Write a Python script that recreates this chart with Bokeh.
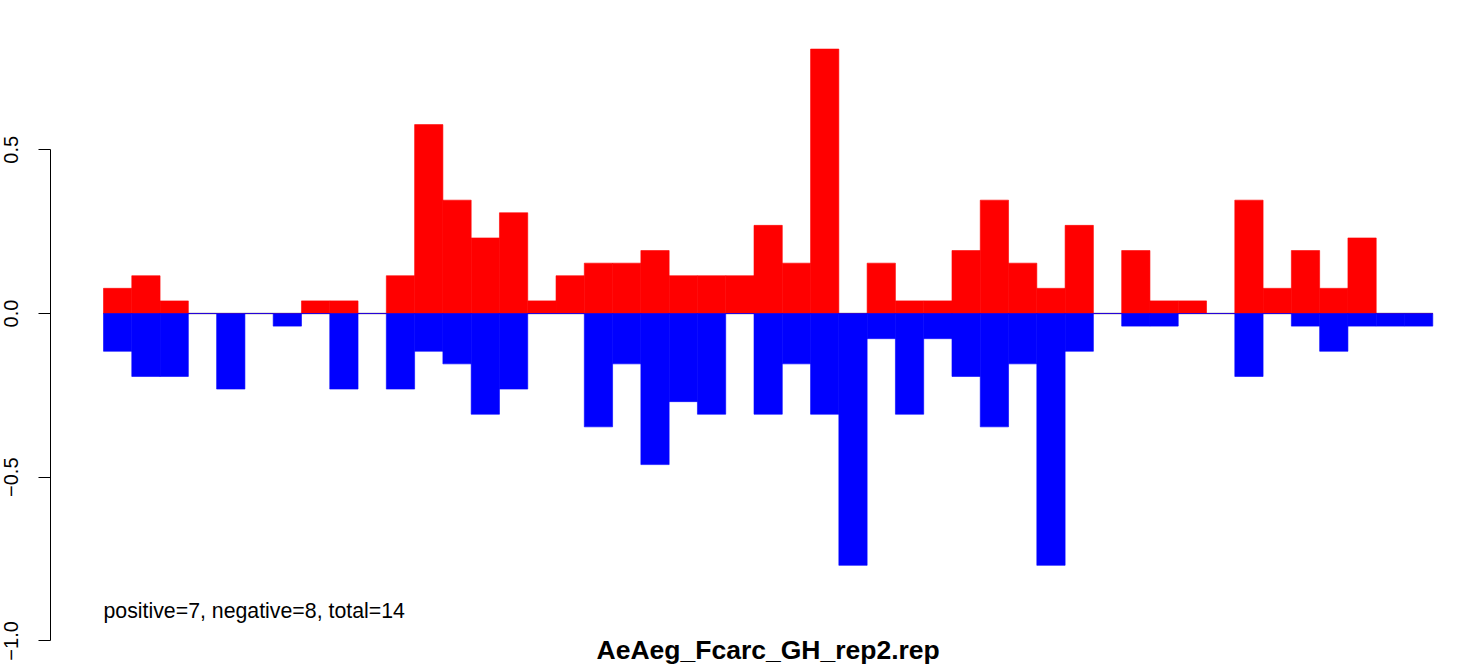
from bokeh.plotting import figure
from bokeh.models import Range1d, FixedTicker, Label
from bokeh.embed import file_html
from bokeh.resources import INLINE

# Data: per-bin positive (red) and negative (blue) scores, 47 bins
positive = [0.0769, 0.1154, 0.0385, 0, 0, 0, 0, 0.0385, 0.0385, 0,
            0.1154, 0.5769, 0.3462, 0.2308, 0.3077, 0.0385, 0.1154, 0.1538, 0.1538, 0.1923,
            0.1154, 0.1154, 0.1154, 0.2692, 0.1538, 0.8077, 0, 0.1538, 0.0385, 0.0385,
            0.1923, 0.3462, 0.1538, 0.0769, 0.2692, 0, 0.1923, 0.0385, 0.0385, 0,
            0.3462, 0.0769, 0.1923, 0.0769, 0.2308, 0, 0]
negative = [0.1154, 0.1923, 0.1923, 0, 0.2308, 0, 0.0385, 0, 0.2308, 0,
            0.2308, 0.1154, 0.1538, 0.3077, 0.2308, 0, 0, 0.3462, 0.1538, 0.4615,
            0.2692, 0.3077, 0, 0.3077, 0.1538, 0.3077, 0.7692, 0.0769, 0.3077, 0.0769,
            0.1923, 0.3462, 0.1538, 0.7692, 0.1154, 0, 0.0385, 0.0385, 0, 0,
            0.1923, 0, 0.0385, 0.1154, 0.0385, 0.0385, 0.0385]
y_ticks = [-1.0, -0.5, 0.0, 0.5]
y_tick_labels = ["\u22121.0", "\u22120.5", "0.0", "0.5"]
summary_text = "positive=7, negative=8, total=14"
title_text = "AeAeg_Fcarc_GH_rep2.rep"

n = len(positive)
xs = [i + 0.5 for i in range(n)]
neg_vals = [-v for v in negative]

p = figure(width=1460, height=667,
           x_range=Range1d(-1.874, 47.98), y_range=Range1d(-1.0812, 0.9560),
           output_backend="svg", toolbar_location=None, x_axis_type=None,
           min_border=0, min_border_left=50, min_border_right=0,
           min_border_top=0, min_border_bottom=0)
p.outline_line_color = None
p.xgrid.visible = False
p.ygrid.visible = False
p.background_fill_color = "white"
p.border_fill_color = "white"

# zero reference line (drawn under bars)
p.segment(x0=[0], y0=[0], x1=[n], y1=[0], line_color="#8c8c8c", line_width=1.5)

p.vbar(x=xs, width=1.0, bottom=0, top=positive, fill_color="#FF0000",
       line_color="#FF0000", line_width=0.6)
p.vbar(x=xs, width=1.0, bottom=neg_vals, top=0, fill_color="#0000FF",
       line_color="#0000FF", line_width=0.6)

ax = p.yaxis[0]
ax.ticker = FixedTicker(ticks=y_ticks)
ax.major_label_overrides = {t: l for t, l in zip(y_ticks, y_tick_labels)}
ax.bounds = (min(y_ticks), max(y_ticks))
ax.minor_tick_line_color = None
ax.major_tick_in = 0
ax.major_tick_out = 12
ax.major_tick_line_color = "black"
ax.axis_line_color = "black"
ax.major_label_orientation = "vertical"
ax.major_label_standoff = 20
ax.major_label_text_font = "Liberation Sans"
ax.major_label_text_font_size = "20px"
ax.major_label_text_color = "black"

p.add_layout(Label(x=0, y=-0.9072, text=summary_text, text_font="Liberation Sans",
                   text_font_size="21.3px", text_color="black", text_align="left",
                   text_baseline="alphabetic"))
p.add_layout(Label(x=n / 2, y=-1.0275, text=title_text, text_font="Liberation Sans",
                   text_font_size="26.5px", text_font_style="bold", text_color="black",
                   text_align="center", text_baseline="alphabetic"))

open("out.html", "w").write(file_html(p, INLINE))
